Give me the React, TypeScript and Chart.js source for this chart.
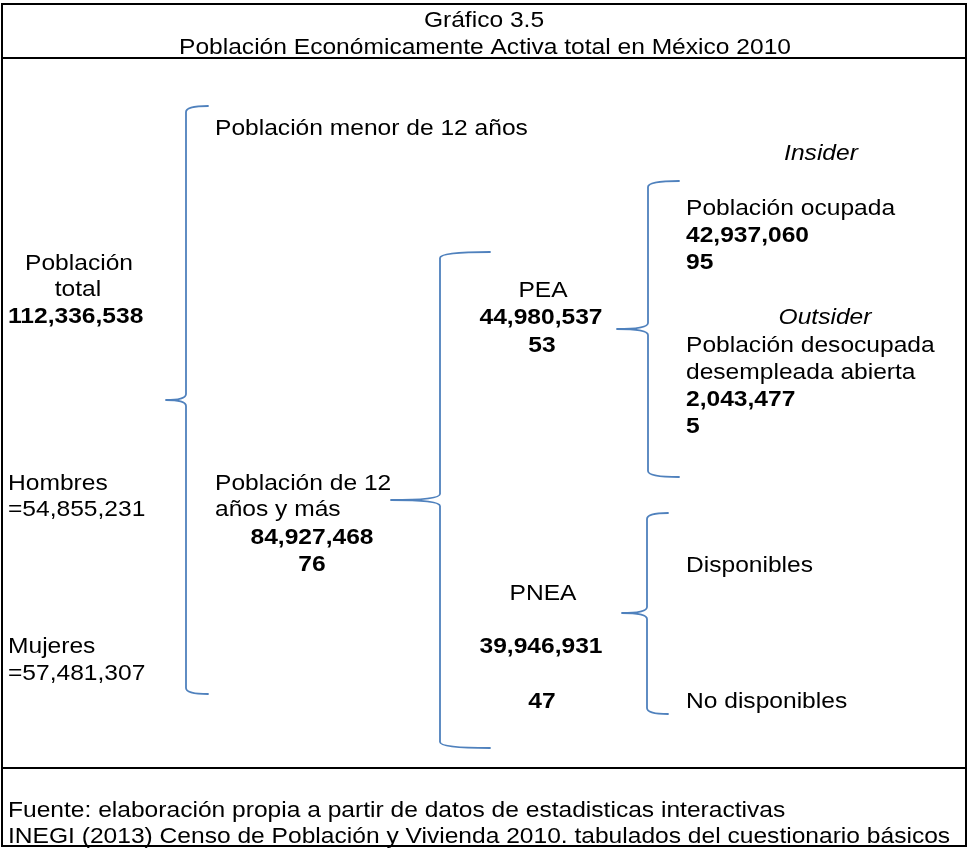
import React, { useEffect, useRef } from "react";
import { Chart, registerables } from "chart.js";

Chart.register(...registerables);

// ---- Data ----
const titleLines = ["Gráfico 3.5", "Población Económicamente Activa total en México 2010"];
const sourceLines = [
  "Fuente: elaboración propia a partir de datos de estadisticas interactivas",
  "INEGI (2013) Censo de Población y Vivienda 2010. tabulados del cuestionario básicos",
];
const groupLabels = [
  "Población total",
  "Hombres",
  "Mujeres",
  "Población de 12 años y más",
  "PEA",
  "Población ocupada",
  "Población desocupada desempleada abierta",
  "PNEA",
];
const groupValues = [112336538, 54855231, 57481307, 84927468, 44980537, 42937060, 2043477, 39946931];
const groupShares = [null, null, null, 76, 53, 95, 5, 47];
const otherLabels = ["Población menor de 12 años", "Disponibles", "No disponibles"];
const segmentLabels = ["Insider", "Outsider"];

const fmt = (n: number) => n.toLocaleString("en-US");

type Item = { text: string; x: number; y: number; align: CanvasTextAlign; bold?: boolean; italic?: boolean };

const W = 969;
const H = 848;
const SX = 1.117;
const FONT_PX = 22;
const BRACE_COLOR = "#4F81BD";

function buildItems(): Item[] {
  const it: Item[] = [];
  it.push({ text: titleLines[0], x: 484, y: 27, align: "center" });
  it.push({ text: titleLines[1], x: 485, y: 54, align: "center" });
  it.push({ text: sourceLines[0], x: 8, y: 817, align: "left" });
  it.push({ text: sourceLines[1], x: 8, y: 843, align: "left" });

  // Población total
  const [pobWord, totWord] = groupLabels[0].split(" ");
  it.push({ text: pobWord, x: 79, y: 270, align: "center" });
  it.push({ text: totWord, x: 78, y: 296, align: "center" });
  it.push({ text: fmt(groupValues[0]), x: 8, y: 323, align: "left", bold: true });

  // Hombres / Mujeres
  it.push({ text: groupLabels[1], x: 8, y: 490, align: "left" });
  it.push({ text: "=" + fmt(groupValues[1]), x: 8, y: 516, align: "left" });
  it.push({ text: groupLabels[2], x: 8, y: 653, align: "left" });
  it.push({ text: "=" + fmt(groupValues[2]), x: 8, y: 680, align: "left" });

  // Menor de 12
  it.push({ text: otherLabels[0], x: 215, y: 135, align: "left" });

  // 12 años y más
  it.push({ text: "Población de 12", x: 215, y: 490, align: "left" });
  it.push({ text: "años y más", x: 215, y: 516, align: "left" });
  it.push({ text: fmt(groupValues[3]), x: 312, y: 544, align: "center", bold: true });
  it.push({ text: String(groupShares[3]), x: 312, y: 571, align: "center", bold: true });

  // PEA
  it.push({ text: groupLabels[4], x: 543, y: 297, align: "center" });
  it.push({ text: fmt(groupValues[4]), x: 541, y: 324, align: "center", bold: true });
  it.push({ text: String(groupShares[4]), x: 542, y: 352, align: "center", bold: true });

  // PNEA
  it.push({ text: groupLabels[7], x: 543, y: 600, align: "center" });
  it.push({ text: fmt(groupValues[7]), x: 541, y: 653, align: "center", bold: true });
  it.push({ text: String(groupShares[7]), x: 542, y: 708, align: "center", bold: true });

  // Insider
  it.push({ text: segmentLabels[0], x: 821, y: 160, align: "center", italic: true });
  it.push({ text: groupLabels[5], x: 686, y: 215, align: "left" });
  it.push({ text: fmt(groupValues[5]), x: 686, y: 242, align: "left", bold: true });
  it.push({ text: String(groupShares[5]), x: 686, y: 269, align: "left", bold: true });

  // Outsider
  it.push({ text: segmentLabels[1], x: 825, y: 324, align: "center", italic: true });
  it.push({ text: "Población desocupada", x: 686, y: 352, align: "left" });
  it.push({ text: "desempleada abierta", x: 686, y: 379, align: "left" });
  it.push({ text: fmt(groupValues[6]), x: 686, y: 406, align: "left", bold: true });
  it.push({ text: String(groupShares[6]), x: 686, y: 433, align: "left", bold: true });

  // Disponibles
  it.push({ text: otherLabels[1], x: 686, y: 572, align: "left" });
  it.push({ text: otherLabels[2], x: 686, y: 708, align: "left" });
  return it;
}

const braces = [
  { x: 186, top: 106, mid: 400, bottom: 694, tip: 166, arm: 208 },
  { x: 440, top: 252, mid: 500, bottom: 748, tip: 391, arm: 490 },
  { x: 648, top: 181, mid: 329, bottom: 477, tip: 617, arm: 679 },
  { x: 647, top: 513, mid: 613, bottom: 714, tip: 622, arm: 668 },
];

const hLines = [
  { x1: 2, x2: 966, y: 4 },
  { x1: 2, x2: 966, y: 58 },
  { x1: 2, x2: 966, y: 768 },
  { x1: 2, x2: 966, y: 846 },
];
const vLines = [
  { x: 2, y1: 4, y2: 846 },
  { x: 966, y1: 4, y2: 846 },
];

export default function App() {
  const ref = useRef<HTMLCanvasElement | null>(null);
  useEffect(() => {
    if (!ref.current) return;
    const items = buildItems();

    const diagramPlugin = {
      id: "diagram",
      beforeDraw(chart: any) {
        const ctx = chart.ctx as CanvasRenderingContext2D;
        ctx.save();
        ctx.fillStyle = "#ffffff";
        ctx.fillRect(0, 0, chart.width, chart.height);
        ctx.restore();
      },
      afterDatasetsDraw(chart: any) {
        const ctx = chart.ctx as CanvasRenderingContext2D;
        const xs = chart.scales.x;
        const ys = chart.scales.y;
        const px = (v: number) => xs.getPixelForValue(v);
        const py = (v: number) => ys.getPixelForValue(v);

        // frame
        ctx.save();
        ctx.strokeStyle = "#000000";
        ctx.lineWidth = 2;
        ctx.lineCap = "square";
        ctx.beginPath();
        hLines.forEach((l) => {
          ctx.moveTo(px(l.x1), py(l.y));
          ctx.lineTo(px(l.x2), py(l.y));
        });
        vLines.forEach((l) => {
          ctx.moveTo(px(l.x), py(l.y1));
          ctx.lineTo(px(l.x), py(l.y2));
        });
        ctx.stroke();
        ctx.restore();

        // braces
        ctx.save();
        ctx.strokeStyle = BRACE_COLOR;
        ctx.lineWidth = 1.8;
        ctx.lineCap = "round";
        ctx.lineJoin = "round";
        braces.forEach((b) => {
          const x = px(b.x);
          const t = py(b.top);
          const m = py(b.mid);
          const bo = py(b.bottom);
          const tip = px(b.tip);
          const arm = px(b.arm);
          const r = 6;
          ctx.beginPath();
          ctx.moveTo(arm, t);
          ctx.quadraticCurveTo(x, t, x, t + r);
          ctx.lineTo(x, m - 6);
          ctx.quadraticCurveTo(x, m, tip, m);
          ctx.moveTo(tip, m);
          ctx.quadraticCurveTo(x, m, x, m + 6);
          ctx.lineTo(x, bo - r);
          ctx.quadraticCurveTo(x, bo, arm, bo);
          ctx.stroke();
        });
        ctx.restore();

        // text
        ctx.save();
        ctx.fillStyle = "#000000";
        ctx.textBaseline = "alphabetic";
        items.forEach((item) => {
          ctx.save();
          ctx.font = `${item.italic ? "italic " : ""}${item.bold ? "bold " : ""}${FONT_PX}px "Liberation Sans", Arial, sans-serif`;
          ctx.textAlign = item.align;
          ctx.translate(px(item.x), py(item.y));
          ctx.scale(SX, 1);
          ctx.fillText(item.text, 0, 0);
          ctx.restore();
        });
        ctx.restore();
      },
    };

    const chart = new Chart(ref.current, {
      type: "scatter",
      data: {
        datasets: [
          {
            label: "anchors",
            data: items.map((i) => ({ x: i.x, y: i.y })),
            pointRadius: 0,
            pointHoverRadius: 0,
          },
        ],
      },
      options: {
        responsive: false,
        animation: false,
        devicePixelRatio: 1,
        layout: { padding: 0 },
        events: [],
        scales: {
          x: { type: "linear", min: 0, max: W, display: false },
          y: { type: "linear", min: 0, max: H, reverse: true, display: false },
        },
        plugins: {
          legend: { display: false },
          tooltip: { enabled: false },
          title: { display: false },
        },
      },
      plugins: [diagramPlugin],
    });
    return () => chart.destroy();
  }, []);

  return (
    <canvas
      ref={ref}
      width={W}
      height={H}
      style={{ position: "fixed", left: 0, top: 0, width: W, height: H, display: "block" }}
    />
  );
}
